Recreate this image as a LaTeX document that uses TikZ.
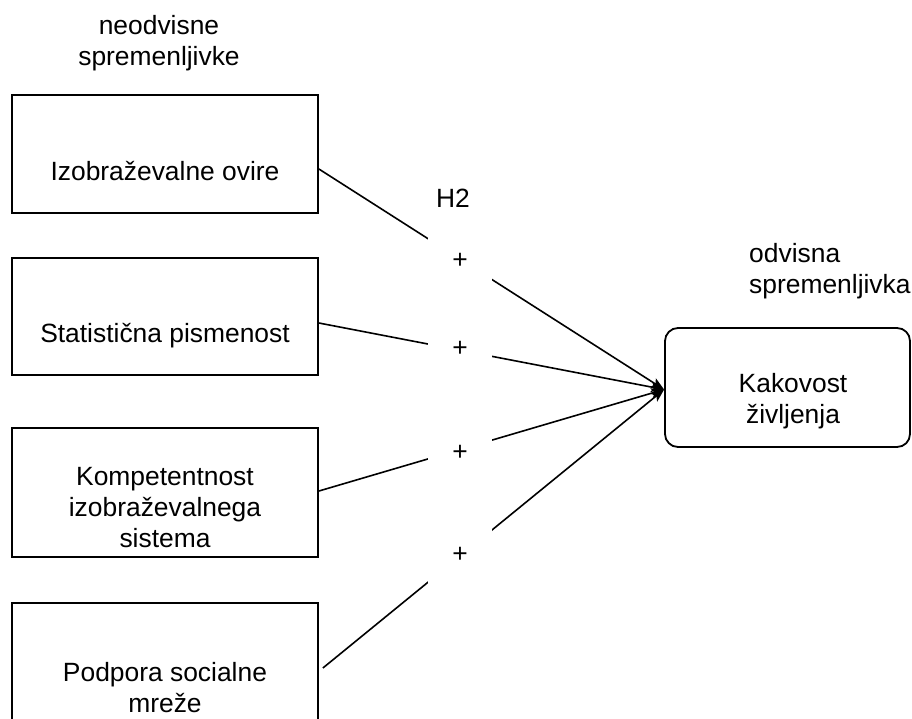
\documentclass[tikz,border=0pt]{standalone}
\usepackage{fontspec}
\setmainfont{Liberation Sans}
\usetikzlibrary{arrows.meta}
\begin{document}
\begin{tikzpicture}[x=1pt,y=-1pt,
  every node/.style={font=\fontsize{26.4}{31}\selectfont, inner sep=0pt},
  varbox/.style={draw, line width=1.8pt, minimum width=306pt},
  resbox/.style={draw, line width=1.8pt, rounded corners=13pt, minimum width=245pt, minimum height=119pt},
  txt/.style={align=center, anchor=base},
  plus/.style={fill=white, minimum width=64pt, minimum height=58pt},
  conn/.style={line width=1.6pt, -{Stealth[length=13pt,width=10pt,inset=3pt]}}
]
\useasboundingbox (0,0) rectangle (912,718);

% column headings (multi-line nodes sit on the baseline of their last line)
\node[txt] (hin) at (159,65) {neodvisne\\spremenljivke};
\node[align=left, anchor=base west] (hout) at (749,293) {odvisna\\spremenljivka};

% independent variables
\node[varbox, minimum height=118pt] (b1) at (165,154) {};
\node[txt] (t1) at (165,180) {Izobraževalne ovire};
\node[varbox, minimum height=117pt] (b2) at (165,316.5) {};
\node[txt] (t2) at (165,342) {Statistična pismenost};
\node[varbox, minimum height=129pt] (b3) at (165,492.5) {};
\node[txt] (t3) at (165,547) {Kompetentnost\\izobraževalnega\\sistema};
\node[varbox, minimum height=137pt] (b4) at (165,671.5) {};
\node[txt] (t4) at (165,712) {Podpora socialne\\mreže};

% dependent variable
\node[resbox] (kz) at (787.5,387.5) {};
\node[txt] (tk) at (793,423) {Kakovost\\življenja};

% hypothesis label
\node[txt] (h2) at (453,207) {H2};

% paths
\draw[conn] ([yshift=-15pt]b1.east) -- ([yshift=-2pt]kz.west);
\draw[conn] ([yshift=-6.5pt]b2.east) -- ([yshift=-2pt]kz.west);
\draw[conn] ([yshift=1.5pt]b3.east) -- ([yshift=-2pt]kz.west);
\draw[conn] ([xshift=4pt,yshift=3.5pt]b4.east) -- ([yshift=-2pt]kz.west);

% signs on the paths
\node[plus] (p1) at (460,261) {+};
\node[plus] (p2) at (460,349) {+};
\node[plus] (p3) at (460,453) {+};
\node[plus] (p4) at (460,555) {+};
\end{tikzpicture}
\end{document}
